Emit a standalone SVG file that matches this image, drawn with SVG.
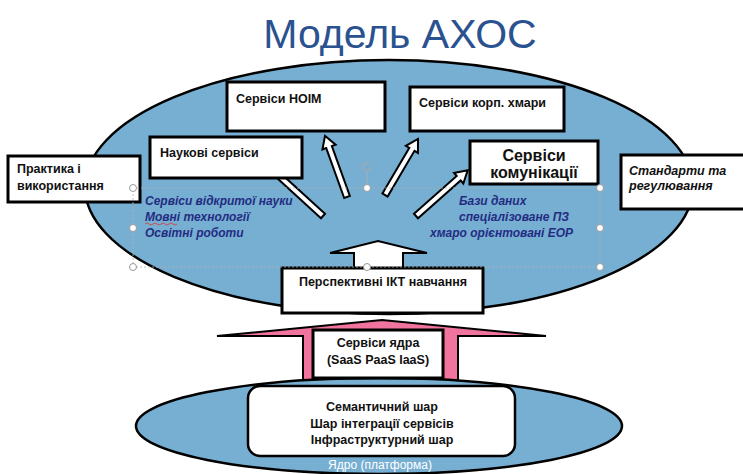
<svg xmlns="http://www.w3.org/2000/svg" width="743" height="474" viewBox="0 0 743 474">
  <style>
    .field { fill: #77AFD2; stroke: #000; stroke-width: 2.5; }
    .box { fill: #fff; stroke: #000; stroke-width: 3; }
    .lbl { font-family: "Liberation Sans", Arial, sans-serif; font-weight: bold; font-size: 12.5px; fill: #111; }
    .lblc { text-anchor: middle; }
    .big { font-size: 16px; }
    .note { font-family: "Liberation Sans", Arial, sans-serif; font-weight: bold; font-style: italic; font-size: 12px; fill: #242C82; }
    .harrow { fill: #fff; stroke: #000; stroke-width: 2; stroke-linejoin: miter; }
    .handle { fill: #fff; stroke: #9a9a9a; stroke-width: 1; }
  </style>

  <!-- Title -->
  <text x="400" y="48" text-anchor="middle" font-family="Liberation Sans, Arial, sans-serif" font-size="41" fill="#2A5290">Модель АХОС</text>

  <!-- Upper field -->
  <ellipse id="field-top" class="field" cx="389" cy="187" rx="304" ry="127"/>

  <!-- Core upward block arrow (pink) -->
  <path id="core-arrow" d="M217,336 L382,320 L546,336 L458,336 L458,384 L303,384 L303,336 Z" fill="#F0749E" stroke="#000" stroke-width="2"/>

  <!-- Lower field: platform -->
  <g id="platform">
    <ellipse class="field" cx="379" cy="426" rx="243" ry="48"/>
    <text x="380" y="469" text-anchor="middle" font-family="Liberation Sans, Arial, sans-serif" font-size="12" fill="#fff">Ядро (платформа)</text>
  </g>

  <g id="core-services">
    <rect class="box" x="313" y="330" width="130" height="48"/>
    <text class="lbl lblc" x="378" y="347">Сервіси ядра</text>
    <text class="lbl lblc" x="378" y="364">(SaaS PaaS IaaS)</text>
  </g>

  <g id="layers">
    <rect x="248" y="386" width="267" height="70" rx="12" ry="12" fill="#fff" stroke="#000" stroke-width="2.5"/>
    <text class="lbl lblc" x="382" y="411">Семантичний шар</text>
    <text class="lbl lblc" x="382" y="428">Шар інтеграції сервісів</text>
    <text class="lbl lblc" x="382" y="444">Інфраструктурний шар</text>
  </g>

  <!-- Connectors -->
  <g id="connectors">
    <path class="harrow" d="M330,253 L378,241 L427,253 L403,253 L403,268 L354,268 L354,253 Z"/>
    <path class="harrow" transform="translate(323,216) rotate(-137.6)" d="M0,-3 L67,-3 L67,-7 L79,0 L67,7 L67,3 L0,3 Z"/>
    <path class="harrow" transform="translate(347,197) rotate(-109.8)" d="M0,-3 L53,-3 L53,-7 L65,0 L53,7 L53,3 L0,3 Z"/>
    <path class="harrow" transform="translate(385,195) rotate(-59.5)" d="M0,-3 L53,-3 L53,-7 L65,0 L53,7 L53,3 L0,3 Z"/>
    <path class="harrow" transform="translate(416,216) rotate(-41.5)" d="M0,-3 L57,-3 L57,-7 L69,0 L57,7 L57,3 L0,3 Z"/>
  </g>

  <g id="perspective-ict">
    <rect class="box" x="282" y="268" width="201" height="45"/>
    <text class="lbl lblc" x="383" y="286">Перспективні ІКТ навчання</text>
  </g>

  <g id="noim">
    <rect class="box" x="227" y="82" width="158" height="49"/>
    <text class="lbl" x="236" y="103">Сервіси НОІМ</text>
  </g>

  <g id="corp-cloud">
    <rect class="box" x="410" y="87" width="154" height="44"/>
    <text class="lbl" x="419" y="107">Сервіси корп. хмари</text>
  </g>

  <g id="science">
    <rect class="box" x="150" y="137" width="152" height="41"/>
    <text class="lbl" x="160" y="157">Наукові сервіси</text>
  </g>

  <g id="communication">
    <rect class="box" x="470" y="141" width="128" height="43"/>
    <text class="lbl lblc big" x="534" y="161">Сервіси</text>
    <text class="lbl lblc big" x="534" y="178">комунікації</text>
  </g>

  <g id="practice">
    <rect class="box" x="8" y="156" width="132" height="46"/>
    <text class="lbl" x="17" y="173">Практика і</text>
    <text class="lbl" x="17" y="190">використання</text>
  </g>

  <g id="standards">
    <rect class="box" x="621" y="155" width="124" height="54"/>
    <text class="lbl" x="629" y="175" font-style="italic">Стандарти та</text>
    <text class="lbl" x="629" y="190" font-style="italic">регулювання</text>
  </g>

  <!-- Italic notes inside the field -->
  <g id="notes">
    <text class="note" x="145" y="205">Сервіси відкритої науки</text>
    <text class="note" x="145" y="221">Мовні технології</text>
    <text class="note" x="145" y="237">Освітні роботи</text>
    <path d="M145,224 q2,-2 4,0 t4,0 t4,0 t4,0 t4,0 t4,0 t4,0 t4,0" fill="none" stroke="#E03030" stroke-width="0.8"/>
    <text class="note" x="459" y="205">Бази даних</text>
    <text class="note" x="459" y="221">спеціалізоване ПЗ</text>
    <text class="note" x="430" y="237">хмаро орієнтовані ЕОР</text>
  </g>

  <!-- Selection frame around the notes -->
  <g id="selection">
    <rect x="133" y="188" width="467" height="79" fill="none" stroke="#b0b0b0" stroke-width="0.8" stroke-dasharray="2,2"/>
    <line x1="367" y1="172" x2="367" y2="188" stroke="#b0b0b0" stroke-width="0.8"/>
    <path d="M371,167 a4,4 0 1 1 -2,-3.5" fill="none" stroke="#a8a8a8" stroke-width="1.3"/>
    <circle class="handle" cx="133" cy="188" r="3.5"/>
    <circle class="handle" cx="133" cy="228" r="3.5"/>
    <circle class="handle" cx="133" cy="267" r="3.5"/>
    <circle class="handle" cx="367" cy="188" r="3.5"/>
    <circle class="handle" cx="367" cy="267" r="3.5"/>
    <circle class="handle" cx="600" cy="188" r="3.5"/>
    <circle class="handle" cx="600" cy="228" r="3.5"/>
    <circle class="handle" cx="600" cy="267" r="3.5"/>
  </g>
</svg>
